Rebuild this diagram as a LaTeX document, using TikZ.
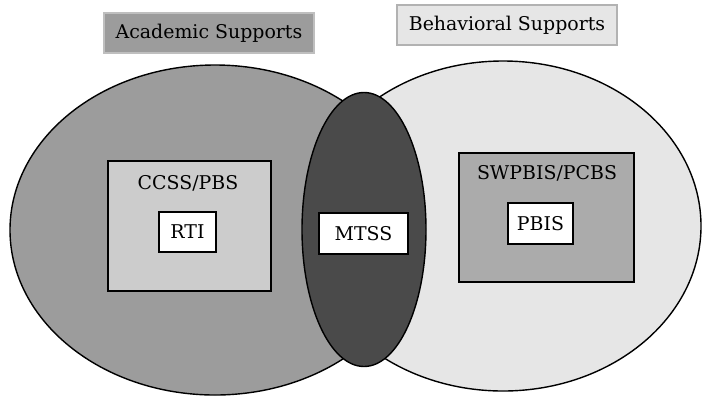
\documentclass[tikz,border=0pt]{standalone}
\usepackage{fontspec}
\setmainfont{DejaVu Serif}
\usetikzlibrary{shapes.geometric}
\definecolor{acad}{HTML}{9C9C9C}
\definecolor{behav}{HTML}{E6E6E6}
\definecolor{midc}{HTML}{4A4A4A}
\definecolor{ccss}{HTML}{CCCCCC}
\definecolor{swp}{HTML}{ABABAB}
\tikzset{
  venn/.style={ellipse, draw=black, line width=1.4bp, inner sep=0pt},
  outerbox/.style={rectangle, draw=black, line width=1.4bp, inner sep=0pt},
  tagbox/.style={rectangle, draw=black, line width=1.4bp, fill=white, inner sep=0pt, font=\fontsize{19}{21}\selectfont},
  headbox/.style={rectangle, line width=1.5bp, inner sep=0pt, font=\fontsize{19}{21}\selectfont},
  lbl/.style={inner sep=0pt, font=\fontsize{19}{21}\selectfont}
}
\begin{document}
\begin{tikzpicture}[x=1bp,y=-1bp]
\useasboundingbox (0,0) rectangle (707,397);
\fill[white] (0,0) rectangle (707,397);
% ellipses
\node[venn, fill=acad, minimum width=410bp, minimum height=330bp] (left) at (215,230) {};
\node[venn, fill=behav, minimum width=396bp, minimum height=330bp] (right) at (503,226) {};
\node[venn, fill=midc, minimum width=124bp, minimum height=274bp] (mid) at (364,229.5) {};
% header boxes
\node[headbox, fill=acad, draw=black!25, minimum width=210bp, minimum height=40bp] (acadbox) at (209,33) {Academic Supports};
\node[headbox, fill=behav, draw=black!30, minimum width=220bp, minimum height=40bp] (behavbox) at (507,25) {Behavioral Supports};
% inner boxes
\node[outerbox, fill=ccss, minimum width=163bp, minimum height=130bp] (ccssbox) at (189.5,226) {};
\node[lbl] (ccsslbl) at (188,183) {CCSS/PBS};
\node[tagbox, minimum width=57bp, minimum height=40bp] (rti) at (187.5,232) {RTI};
\node[outerbox, fill=swp, minimum width=175bp, minimum height=129bp] (swpbox) at (546.5,217.5) {};
\node[lbl] (swplbl) at (547,173) {SWPBIS/PCBS};
\node[tagbox, minimum width=65bp, minimum height=41bp] (pbis) at (540.5,223.5) {PBIS};
\node[tagbox, minimum width=89bp, minimum height=41bp] (mtss) at (363.5,233.5) {MTSS};
\end{tikzpicture}
\end{document}
